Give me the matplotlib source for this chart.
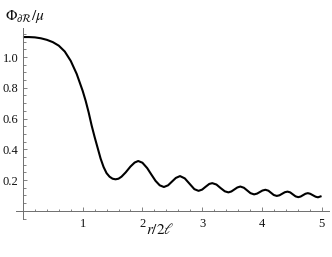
import matplotlib
matplotlib.use("Agg")
import matplotlib.pyplot as plt
from matplotlib.ticker import FixedLocator, FixedFormatter

# Values
r_over_2l = [0.00, 0.10, 0.20, 0.30, 0.40, 0.50, 0.60, 0.70, 0.80, 0.90,
             1.00, 1.05, 1.10, 1.15, 1.20, 1.25, 1.30, 1.35, 1.40, 1.45,
             1.50, 1.55, 1.60, 1.65, 1.72, 1.80, 1.87, 1.93, 2.00, 2.08,
             2.15, 2.22, 2.29, 2.36, 2.43, 2.50, 2.56, 2.63, 2.71, 2.79,
             2.87, 2.94, 3.00, 3.06, 3.12, 3.17, 3.24, 3.31, 3.38, 3.44,
             3.49, 3.54, 3.59, 3.64, 3.70, 3.755, 3.81, 3.87, 3.92, 3.965,
             4.01, 4.06, 4.11, 4.155, 4.20, 4.25, 4.295, 4.34, 4.385, 4.43,
             4.475, 4.52, 4.565, 4.61, 4.65, 4.69, 4.73, 4.77, 4.81, 4.855,
             4.90, 4.94, 5.00]
phi_over_mu = [1.130, 1.130, 1.128, 1.122, 1.112, 1.097, 1.074, 1.036, 0.975, 0.890,
               0.780, 0.715, 0.640, 0.555, 0.480, 0.410, 0.340, 0.285, 0.245, 0.222,
               0.209, 0.205, 0.209, 0.222, 0.250, 0.288, 0.314, 0.324, 0.313, 0.278,
               0.236, 0.195, 0.166, 0.155, 0.166, 0.192, 0.214, 0.226, 0.211, 0.176,
               0.141, 0.130, 0.138, 0.157, 0.175, 0.180, 0.171, 0.148, 0.127, 0.120,
               0.126, 0.139, 0.152, 0.158, 0.150, 0.1325, 0.115, 0.107, 0.112, 0.122,
               0.132, 0.137, 0.131, 0.117, 0.103, 0.097, 0.101, 0.111, 0.121, 0.125,
               0.120, 0.107, 0.094, 0.089, 0.093, 0.102, 0.111, 0.115, 0.111, 0.1015,
               0.092, 0.088, 0.096]

x_major = [1, 2, 3, 4, 5]
x_labels = ["1", "2", "3", "4", "5"]
y_major = [0.2, 0.4, 0.6, 0.8, 1.0]
y_labels = ["0.2", "0.4", "0.6", "0.8", "1.0"]

plt.rcParams['mathtext.fontset'] = 'stix'

fig = plt.figure(figsize=(3.32, 2.57), dpi=100)
ax = fig.add_axes([0.0476, 0.1467, 0.9425, 0.745])

ax.plot(r_over_2l, phi_over_mu, color='black', lw=1.5, solid_capstyle='butt')

ax.set_xlim(-0.12, 5.12)
ax.set_ylim(-0.055, 1.19)

axis_col = '#6e6e6e'
for s in ['top', 'right']:
    ax.spines[s].set_visible(False)
for s in ['left', 'bottom']:
    ax.spines[s].set_position(('data', 0))
    ax.spines[s].set_color(axis_col)
    ax.spines[s].set_linewidth(0.7)

x_minor = [i * 0.2 for i in range(1, 26) if (i % 5) != 0]
y_minor = [-0.05] + [round(i * 0.05, 2) for i in range(1, 24) if (i % 4) != 0]

ax.xaxis.set_major_locator(FixedLocator(x_major))
ax.xaxis.set_major_formatter(FixedFormatter(x_labels))
ax.yaxis.set_major_locator(FixedLocator(y_major))
ax.yaxis.set_major_formatter(FixedFormatter(y_labels))
ax.xaxis.set_minor_locator(FixedLocator(x_minor))
ax.yaxis.set_minor_locator(FixedLocator(y_minor))

ax.tick_params(which='both', direction='in', color=axis_col, width=0.6)
ax.tick_params(which='major', length=3.0)
ax.tick_params(which='minor', length=1.8)
ax.tick_params(axis='x', which='major', pad=5.0)
ax.tick_params(axis='y', which='major', pad=3.2)
for lab in ax.get_xticklabels() + ax.get_yticklabels():
    lab.set_fontfamily('Liberation Serif')
    lab.set_fontsize(9)
    lab.set_color('#111111')

fig.text(5 / 332, 1 - 20 / 257, r'$\Phi_{\partial\mathcal{R}}/\mu$', fontsize=11,
         ha='left', va='baseline', color='#111111')
fig.text(146 / 332, 1 - 234 / 257, r'$r/2\ell$', fontsize=11,
         ha='left', va='baseline', color='#111111')

fig.savefig('out.png', dpi=100)
